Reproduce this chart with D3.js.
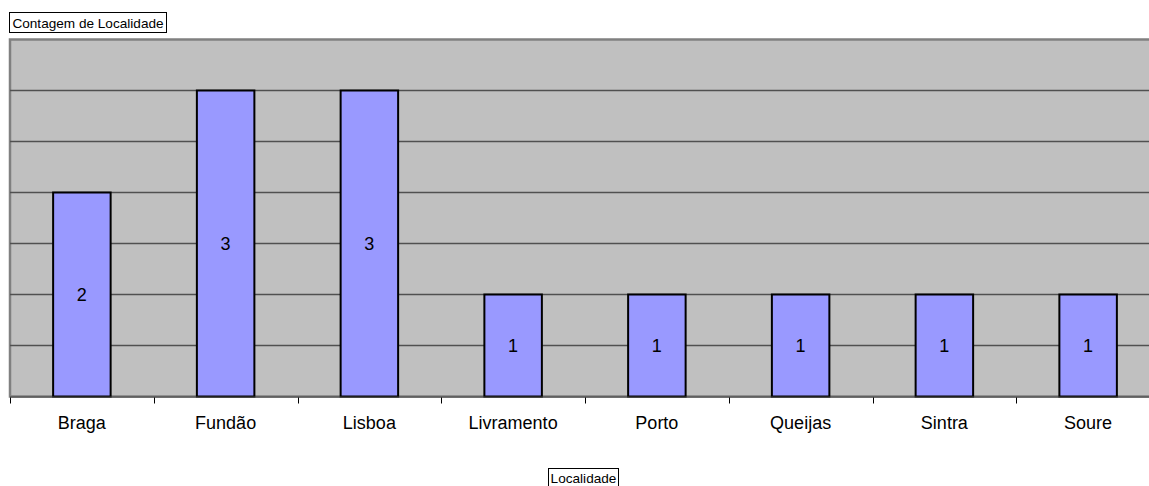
<!DOCTYPE html>
<html>
<head>
<meta charset="utf-8">
<script src="https://cdn.jsdelivr.net/npm/d3@7"></script>
<style>
  html, body { margin: 0; padding: 0; background: #ffffff; }
  svg { display: block; font-family: Arial, "Liberation Sans", sans-serif; }
</style>
</head>
<body>
<svg id="chart" width="1149" height="486"></svg>
<script>
// Pivot chart: count of records per locality
const categories = ["Braga", "Fundão", "Lisboa", "Livramento", "Porto", "Queijas", "Sintra", "Soure"];
const counts = [2, 3, 3, 1, 1, 1, 1, 1];
const gridValues = [0.5, 1, 1.5, 2, 2.5, 3];
const titleText = "Contagem de Localidade";
const axisTitleText = "Localidade";

const svg = d3.select("#chart");

const plot = { left: 10, right: 1160, top: 39.5, bottom: 396.5 };

const x = d3.scaleBand()
  .domain(categories)
  .range([plot.left, plot.right])
  .paddingInner(0.6)
  .paddingOuter(0.3);

const y = d3.scaleLinear()
  .domain([0, 3.5])
  .range([plot.bottom, plot.top]);

// plot area background
svg.append("rect")
  .attr("x", plot.left)
  .attr("y", plot.top)
  .attr("width", plot.right - plot.left)
  .attr("height", plot.bottom - plot.top)
  .attr("fill", "#c0c0c0")
  .attr("stroke", "#808080")
  .attr("stroke-width", 2.5);

// horizontal gridlines
svg.append("g")
  .selectAll("line")
  .data(gridValues)
  .join("line")
  .attr("x1", plot.left)
  .attr("x2", plot.right)
  .attr("y1", d => y(d))
  .attr("y2", d => y(d))
  .attr("stroke", "#505050")
  .attr("stroke-width", 1.5);

// bars
svg.append("g")
  .selectAll("rect")
  .data(categories)
  .join("rect")
  .attr("x", d => x(d))
  .attr("y", (d, i) => y(counts[i]))
  .attr("width", x.bandwidth())
  .attr("height", (d, i) => y(0) - y(counts[i]))
  .attr("fill", "#9999ff")
  .attr("stroke", "#000000")
  .attr("stroke-width", 2);

// value labels inside bars
svg.append("g")
  .selectAll("text")
  .data(categories)
  .join("text")
  .attr("x", d => x(d) + x.bandwidth() / 2)
  .attr("y", (d, i) => (y(counts[i]) + y(0)) / 2)
  .attr("text-anchor", "middle")
  .attr("dominant-baseline", "central")
  .attr("font-size", 18)
  .attr("fill", "#000")
  .text((d, i) => counts[i]);

// category axis line
svg.append("line")
  .attr("x1", plot.left)
  .attr("x2", plot.right)
  .attr("y1", plot.bottom + 0.5)
  .attr("y2", plot.bottom + 0.5)
  .attr("stroke", "#404040")
  .attr("stroke-width", 1);

// tick marks between categories
const step = x.step();
const boundaries = d3.range(categories.length + 1).map(i => x(categories[0]) - x.paddingOuter() * step + i * step);
svg.append("g")
  .selectAll("line")
  .data(boundaries)
  .join("line")
  .attr("x1", d => Math.round(d) + 0.5)
  .attr("x2", d => Math.round(d) + 0.5)
  .attr("y1", plot.bottom + 1)
  .attr("y2", plot.bottom + 7)
  .attr("stroke", "#000")
  .attr("stroke-width", 1);

// category labels
svg.append("g")
  .selectAll("text")
  .data(categories)
  .join("text")
  .attr("x", d => x(d) + x.bandwidth() / 2)
  .attr("y", 429)
  .attr("text-anchor", "middle")
  .attr("font-size", 18)
  .attr("fill", "#000")
  .text(d => d);

// boxed field buttons
function fieldBox(x0, y0, w, h, label, baseline) {
  svg.append("rect")
    .attr("x", x0 + 0.5)
    .attr("y", y0 + 0.5)
    .attr("width", w)
    .attr("height", h)
    .attr("fill", "#ffffff")
    .attr("stroke", "#000")
    .attr("stroke-width", 1);
  svg.append("text")
    .attr("x", x0 + w / 2 + 0.5)
    .attr("y", baseline)
    .attr("text-anchor", "middle")
    .attr("font-size", 13.6)
    .attr("fill", "#000")
    .text(label);
}

fieldBox(9, 12, 157, 20, titleText, 27.5);
fieldBox(548, 468, 70, 20, axisTitleText, 483);
</script>
</body>
</html>
